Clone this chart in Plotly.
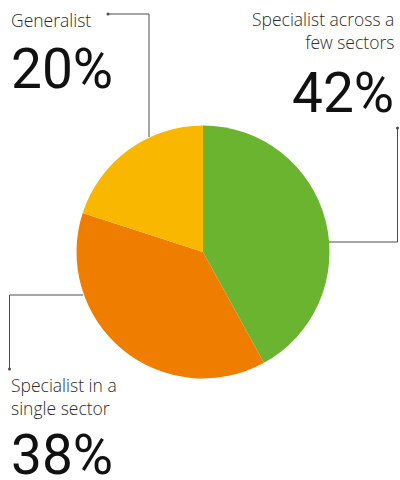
import plotly.graph_objects as go

# Share of respondents by investment focus
categories = ["Specialist across a few sectors", "Specialist in a single sector", "Generalist"]
shares = [42, 38, 20]
colors = ["#6ab42f", "#ef7d00", "#f9b700"]
label_texts = ["Specialist across a<br>few sectors", "Specialist in a<br>single sector", "Generalist"]

W, H = 400, 480
CX, CY, R = 203, 252, 126.5   # pie centre and radius in pixels (top-left origin)


def px(x, y):
    """Convert pixel coordinates (origin top-left) to paper coordinates."""
    return x / W, 1 - y / H


fig = go.Figure(
    go.Pie(
        labels=categories,
        values=shares,
        marker=dict(colors=colors, line=dict(width=0)),
        sort=False,
        direction="clockwise",
        rotation=0,
        textinfo="none",
        hoverinfo="label+percent",
        showlegend=False,
        domain=dict(
            x=[(CX - R) / W, (CX + R) / W],
            y=[1 - (CY + R) / H, 1 - (CY - R) / H],
        ),
    )
)

LINE = "#4d4d4d"
leaders = [
    # green slice: right, then up to the label
    [(329, 242), (397.5, 242), (397.5, 128)],
    # orange slice: left, then down to the label
    [(83, 295), (9.5, 295), (9.5, 369)],
    # yellow slice: up, then left to the label
    [(149, 137), (149, 14), (108, 14)],
]

shapes = []
for pts in leaders:
    for (x0, y0), (x1, y1) in zip(pts[:-1], pts[1:]):
        a, b = px(x0, y0)
        c, d = px(x1, y1)
        shapes.append(dict(type="line", xref="paper", yref="paper",
                           x0=a, y0=b, x1=c, y1=d,
                           line=dict(color=LINE, width=1)))
    ex, ey = pts[-1]
    a0, b0 = px(ex - 1.5, ey - 1.5)
    a1, b1 = px(ex + 1.5, ey + 1.5)
    shapes.append(dict(type="circle", xref="paper", yref="paper",
                       x0=a0, y0=b1, x1=a1, y1=b0,
                       fillcolor=LINE, line=dict(width=0)))

LABEL_FONT = dict(family="Open Sans", size=17.5, color="#2b2b2b", weight=300)
VALUE_FONT = dict(family="Roboto", size=55, color="#111111", weight=400)

# label block positions: (x, label centre y, value centre y, anchor)
blocks = [
    (396, 31, 93, "right"),   # green
    (9, 396, 455, "left"),    # orange
    (9, 20, 69, "left"),      # yellow
]

annotations = []
for text, val, (x, ly, vy, anchor) in zip(label_texts, shares, blocks):
    lx, lyp = px(x, ly)
    annotations.append(dict(xref="paper", yref="paper", x=lx, y=lyp,
                            text=text, showarrow=False, xanchor=anchor,
                            yanchor="middle", align=anchor, font=LABEL_FONT))
    vx, vyp = px(x, vy)
    annotations.append(dict(xref="paper", yref="paper", x=vx, y=vyp,
                            text=f"{val}%", showarrow=False, xanchor=anchor,
                            yanchor="middle", align=anchor, font=VALUE_FONT,
                            height=46, valign="middle"))

fig.update_layout(
    width=W, height=H,
    margin=dict(l=0, r=0, t=0, b=0),
    paper_bgcolor="white",
    plot_bgcolor="white",
    shapes=shapes,
    annotations=annotations,
)

fig.write_html("out.html")
